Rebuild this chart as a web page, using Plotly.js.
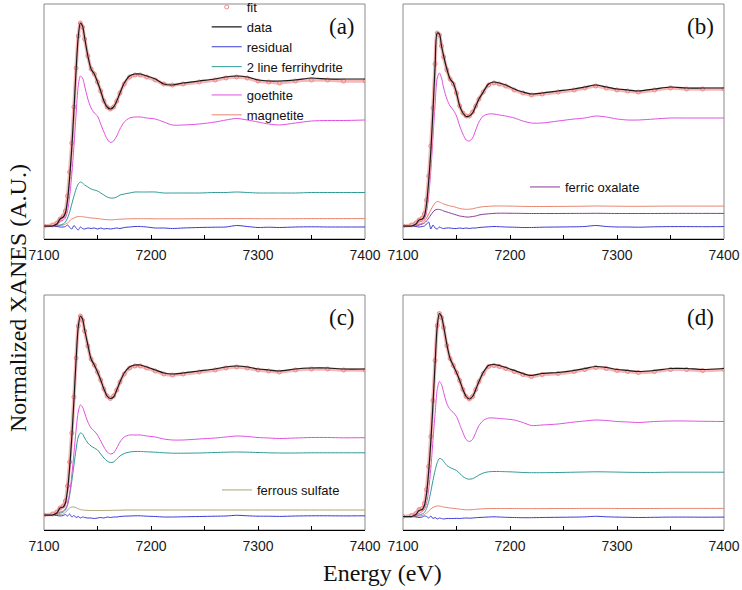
<!DOCTYPE html>
<html><head><meta charset="utf-8">
<script src="https://cdn.plot.ly/plotly-3.0.1.min.js"></script>
<style>html,body{margin:0;padding:0;background:#fff}#chart{width:742px;height:590px}</style>
</head><body><div id="chart"></div>
<script>
// Energy grid (eV)
const energy = [7100, 7108, 7112, 7115, 7118, 7120, 7122, 7124, 7126, 7128, 7130, 7132, 7134, 7136, 7138, 7141, 7144, 7147, 7150, 7153, 7156, 7159, 7162, 7165, 7168, 7171, 7175, 7180, 7185, 7190, 7196, 7204, 7212, 7220, 7230, 7245, 7260, 7270, 7280, 7290, 7300, 7310, 7320, 7335, 7350, 7365, 7380, 7400];

const tickValues = [7100, 7200, 7300, 7400];
const tickLabels = ['7100', '7200', '7300', '7400'];
const panelLabels = ['(a)', '(b)', '(c)', '(d)'];

// Panel (a)
const a_data = [0, 0, 0.02, 0.07, 0.09, 0.13, 0.26, 0.49, 0.79, 1.16, 1.56, 1.89, 2.03, 2.0, 1.88, 1.7, 1.57, 1.52, 1.44, 1.35, 1.25, 1.19, 1.17, 1.19, 1.25, 1.33, 1.43, 1.5, 1.52, 1.52, 1.5, 1.47, 1.42, 1.41, 1.43, 1.45, 1.47, 1.49, 1.5, 1.49, 1.46, 1.45, 1.45, 1.46, 1.48, 1.47, 1.47, 1.47];
const a_fit = [0, 0.01, 0.03, 0.07, 0.1, 0.15, 0.3, 0.54, 0.83, 1.19, 1.58, 1.9, 2.03, 1.99, 1.87, 1.7, 1.57, 1.52, 1.44, 1.35, 1.25, 1.19, 1.17, 1.19, 1.25, 1.33, 1.42, 1.49, 1.51, 1.51, 1.49, 1.46, 1.42, 1.41, 1.42, 1.44, 1.46, 1.48, 1.49, 1.48, 1.45, 1.44, 1.43, 1.45, 1.46, 1.46, 1.45, 1.45];
const a_residual = [0, 0, -0.005, -0.01, -0.01, -0.005, 0.01, -0.015, -0.03, 0.005, -0.02, -0.04, -0.01, -0.025, -0.03, -0.02, -0.025, -0.02, -0.03, -0.02, -0.03, -0.025, -0.03, -0.025, -0.02, -0.025, -0.015, -0.01, -0.005, -0.005, -0.01, -0.02, -0.02, -0.025, -0.02, -0.015, -0.012, -0.01, 0.005, -0.005, -0.015, -0.012, -0.015, -0.01, -0.008, -0.01, -0.01, -0.01];
const a_ferrihydrite = [0, 0, 0, 0.01, 0.02, 0.04, 0.08, 0.14, 0.22, 0.3, 0.37, 0.42, 0.44, 0.43, 0.41, 0.39, 0.37, 0.36, 0.35, 0.33, 0.31, 0.29, 0.28, 0.28, 0.29, 0.31, 0.32, 0.33, 0.34, 0.34, 0.34, 0.34, 0.33, 0.33, 0.33, 0.33, 0.335, 0.335, 0.34, 0.335, 0.33, 0.33, 0.33, 0.33, 0.335, 0.335, 0.335, 0.335];
const a_goethite = [0, 0, 0.01, 0.04, 0.06, 0.08, 0.15, 0.3, 0.52, 0.8, 1.12, 1.4, 1.5, 1.48, 1.4, 1.27, 1.18, 1.13, 1.1, 1.02, 0.94, 0.87, 0.835, 0.85, 0.9, 0.97, 1.04, 1.08, 1.09, 1.09, 1.08, 1.07, 1.04, 1.01, 1.01, 1.02, 1.04, 1.06, 1.075, 1.06, 1.04, 1.02, 1.01, 1.03, 1.05, 1.055, 1.055, 1.06];
const a_magnetite = [0, 0, 0, 0.005, 0.01, 0.02, 0.03, 0.05, 0.07, 0.08, 0.09, 0.095, 0.095, 0.093, 0.09, 0.085, 0.08, 0.078, 0.075, 0.07, 0.066, 0.063, 0.062, 0.063, 0.066, 0.068, 0.07, 0.072, 0.073, 0.073, 0.073, 0.072, 0.072, 0.072, 0.072, 0.073, 0.073, 0.074, 0.074, 0.074, 0.073, 0.073, 0.073, 0.073, 0.074, 0.074, 0.074, 0.074];

// Panel (b)
const b_data = [0, 0, 0.02, 0.06, 0.07, 0.1, 0.22, 0.45, 0.75, 1.15, 1.6, 1.93, 1.92, 1.8, 1.7, 1.57, 1.47, 1.43, 1.33, 1.2, 1.13, 1.095, 1.1, 1.13, 1.2, 1.27, 1.34, 1.42, 1.44, 1.43, 1.41, 1.37, 1.34, 1.32, 1.33, 1.35, 1.37, 1.39, 1.41, 1.39, 1.37, 1.36, 1.35, 1.37, 1.39, 1.38, 1.38, 1.38];
const b_fit = [0, 0.01, 0.03, 0.06, 0.08, 0.12, 0.26, 0.5, 0.8, 1.18, 1.62, 1.93, 1.91, 1.8, 1.69, 1.56, 1.47, 1.42, 1.33, 1.2, 1.13, 1.1, 1.1, 1.14, 1.2, 1.27, 1.34, 1.41, 1.43, 1.42, 1.4, 1.36, 1.33, 1.31, 1.32, 1.34, 1.36, 1.38, 1.4, 1.38, 1.36, 1.35, 1.34, 1.36, 1.38, 1.37, 1.37, 1.37];
const b_residual = [0, 0, -0.005, -0.01, -0.005, 0, 0.02, 0.04, -0.03, 0.01, -0.02, -0.03, -0.01, -0.02, -0.025, -0.02, -0.02, -0.025, -0.025, -0.02, -0.025, -0.02, -0.025, -0.02, -0.02, -0.015, -0.012, -0.008, -0.005, -0.007, -0.01, -0.012, -0.015, -0.015, -0.012, -0.01, -0.008, -0.005, 0.005, -0.005, -0.01, -0.01, -0.012, -0.008, -0.006, -0.006, -0.007, -0.006];
const b_goethite = [0, 0, 0.01, 0.04, 0.05, 0.07, 0.14, 0.3, 0.55, 0.88, 1.22, 1.48, 1.53, 1.48, 1.38, 1.27, 1.2, 1.16, 1.1, 1.0, 0.92, 0.86, 0.85, 0.88, 0.96, 1.04, 1.1, 1.12, 1.12, 1.11, 1.1, 1.08, 1.05, 1.03, 1.03, 1.05, 1.07, 1.08, 1.1, 1.09, 1.07, 1.06, 1.06, 1.07, 1.08, 1.08, 1.08, 1.08];
const b_magnetite = [0, 0, 0.01, 0.02, 0.03, 0.05, 0.08, 0.12, 0.16, 0.2, 0.23, 0.245, 0.24, 0.23, 0.22, 0.21, 0.2, 0.195, 0.185, 0.175, 0.17, 0.167, 0.168, 0.172, 0.18, 0.187, 0.193, 0.197, 0.2, 0.2, 0.2, 0.198, 0.196, 0.195, 0.195, 0.196, 0.197, 0.198, 0.2, 0.199, 0.198, 0.197, 0.197, 0.198, 0.199, 0.199, 0.199, 0.199];
const b_oxalate = [0, 0, 0, 0.01, 0.02, 0.03, 0.05, 0.08, 0.11, 0.14, 0.16, 0.167, 0.165, 0.16, 0.15, 0.14, 0.13, 0.12, 0.11, 0.1, 0.095, 0.09, 0.09, 0.095, 0.1, 0.11, 0.117, 0.122, 0.126, 0.128, 0.128, 0.127, 0.126, 0.125, 0.125, 0.125, 0.126, 0.126, 0.127, 0.126, 0.125, 0.125, 0.125, 0.125, 0.126, 0.126, 0.126, 0.126];

// Panel (c)
const c_data = [0, 0, 0.02, 0.07, 0.08, 0.12, 0.25, 0.48, 0.78, 1.15, 1.55, 1.88, 1.99, 1.96, 1.85, 1.7, 1.56, 1.5, 1.43, 1.35, 1.26, 1.19, 1.165, 1.18, 1.25, 1.33, 1.42, 1.48, 1.5, 1.5, 1.48, 1.45, 1.42, 1.41, 1.42, 1.44, 1.46, 1.48, 1.49, 1.48, 1.46, 1.45, 1.44, 1.46, 1.47, 1.47, 1.46, 1.46];
const c_fit = [0, 0.01, 0.03, 0.07, 0.09, 0.14, 0.29, 0.53, 0.82, 1.18, 1.57, 1.89, 1.99, 1.95, 1.84, 1.69, 1.56, 1.5, 1.43, 1.35, 1.26, 1.19, 1.165, 1.19, 1.25, 1.33, 1.41, 1.47, 1.49, 1.49, 1.47, 1.44, 1.41, 1.4, 1.41, 1.43, 1.45, 1.47, 1.48, 1.47, 1.45, 1.44, 1.43, 1.45, 1.46, 1.46, 1.45, 1.45];
const c_residual = [0, 0, -0.005, -0.01, -0.005, 0.005, -0.01, 0.01, -0.02, -0.005, -0.025, -0.015, -0.03, -0.02, -0.025, -0.03, -0.03, -0.035, -0.03, -0.025, -0.03, -0.02, -0.025, -0.02, -0.02, -0.015, -0.012, -0.01, -0.008, -0.008, -0.012, -0.015, -0.02, -0.02, -0.018, -0.015, -0.012, -0.01, -0.003, -0.008, -0.012, -0.012, -0.014, -0.01, -0.008, -0.008, -0.009, -0.008];
const c_goethite = [0, 0, 0.01, 0.03, 0.04, 0.06, 0.11, 0.22, 0.4, 0.62, 0.85, 1.03, 1.1, 1.08, 1.02, 0.93, 0.87, 0.84, 0.8, 0.74, 0.68, 0.63, 0.61, 0.62, 0.67, 0.73, 0.78, 0.8, 0.8, 0.8, 0.79, 0.78, 0.76, 0.75, 0.75, 0.76, 0.77, 0.78, 0.79, 0.785, 0.775, 0.77, 0.765, 0.77, 0.775, 0.775, 0.772, 0.773];
const c_ferrihydrite = [0, 0, 0.005, 0.02, 0.03, 0.05, 0.1, 0.2, 0.34, 0.5, 0.66, 0.78, 0.82, 0.81, 0.77, 0.72, 0.69, 0.67, 0.65, 0.61, 0.57, 0.54, 0.525, 0.53, 0.56, 0.59, 0.615, 0.63, 0.635, 0.635, 0.632, 0.628, 0.622, 0.618, 0.618, 0.62, 0.625, 0.628, 0.63, 0.628, 0.625, 0.622, 0.62, 0.62, 0.622, 0.622, 0.622, 0.622];
const c_sulfate = [0, 0, 0, 0.005, 0.01, 0.025, 0.05, 0.07, 0.08, 0.08, 0.072, 0.062, 0.055, 0.05, 0.048, 0.046, 0.045, 0.045, 0.045, 0.045, 0.045, 0.046, 0.046, 0.047, 0.048, 0.048, 0.05, 0.05, 0.05, 0.05, 0.05, 0.05, 0.05, 0.05, 0.05, 0.05, 0.05, 0.05, 0.05, 0.05, 0.05, 0.05, 0.05, 0.05, 0.05, 0.05, 0.05, 0.05];

// Panel (d)
const d_data = [0, 0, 0.02, 0.06, 0.07, 0.11, 0.23, 0.45, 0.75, 1.12, 1.53, 1.9, 2.03, 2.0, 1.9, 1.72, 1.58, 1.51, 1.44, 1.36, 1.27, 1.2, 1.175, 1.2, 1.27, 1.35, 1.44, 1.51, 1.52, 1.51, 1.49, 1.46, 1.43, 1.41, 1.43, 1.44, 1.46, 1.48, 1.5, 1.49, 1.47, 1.46, 1.45, 1.46, 1.48, 1.48, 1.47, 1.48];
const d_fit = [0, 0.01, 0.03, 0.07, 0.08, 0.13, 0.27, 0.5, 0.8, 1.16, 1.56, 1.91, 2.03, 1.99, 1.89, 1.71, 1.58, 1.51, 1.44, 1.36, 1.27, 1.2, 1.175, 1.2, 1.27, 1.35, 1.43, 1.5, 1.51, 1.5, 1.48, 1.45, 1.42, 1.4, 1.42, 1.43, 1.45, 1.47, 1.49, 1.48, 1.46, 1.45, 1.44, 1.45, 1.47, 1.47, 1.46, 1.47];
const d_residual = [0, 0, -0.005, -0.01, -0.005, 0.005, 0, -0.015, 0.005, -0.02, -0.01, -0.025, -0.015, -0.02, -0.025, -0.02, -0.02, -0.02, -0.018, -0.02, -0.017, -0.015, -0.017, -0.015, -0.012, -0.01, -0.008, -0.005, -0.003, -0.005, -0.008, -0.01, -0.012, -0.012, -0.01, -0.008, -0.006, -0.004, 0.002, -0.003, -0.006, -0.008, -0.01, -0.008, -0.006, -0.006, -0.007, -0.006];
const d_goethite = [0, 0, 0.01, 0.03, 0.05, 0.07, 0.13, 0.27, 0.48, 0.76, 1.03, 1.27, 1.35, 1.32, 1.24, 1.13, 1.07, 1.04, 1.0, 0.92, 0.84, 0.77, 0.75, 0.77, 0.84, 0.91, 0.96, 0.985, 0.985, 0.98, 0.975, 0.965, 0.94, 0.91, 0.915, 0.925, 0.945, 0.955, 0.965, 0.96, 0.95, 0.945, 0.94, 0.95, 0.955, 0.955, 0.952, 0.95];
const d_ferrihydrite = [0, 0, 0.005, 0.015, 0.025, 0.04, 0.08, 0.15, 0.25, 0.36, 0.46, 0.54, 0.58, 0.575, 0.55, 0.51, 0.49, 0.475, 0.46, 0.43, 0.4, 0.38, 0.373, 0.378, 0.395, 0.415, 0.435, 0.447, 0.45, 0.45, 0.448, 0.445, 0.44, 0.438, 0.438, 0.44, 0.443, 0.445, 0.447, 0.446, 0.444, 0.442, 0.441, 0.441, 0.443, 0.443, 0.443, 0.443];
const d_magnetite = [0, 0, 0, 0.005, 0.01, 0.02, 0.035, 0.055, 0.075, 0.09, 0.1, 0.105, 0.105, 0.1, 0.095, 0.09, 0.085, 0.082, 0.078, 0.073, 0.07, 0.067, 0.067, 0.069, 0.072, 0.075, 0.077, 0.079, 0.08, 0.08, 0.08, 0.08, 0.079, 0.079, 0.079, 0.08, 0.08, 0.081, 0.081, 0.081, 0.08, 0.08, 0.08, 0.08, 0.081, 0.081, 0.081, 0.081];

const COL = {
  fit: '#ee8585', fitHalo: 'rgba(242,160,160,0.75)', data: '#1a1a1a', residual: '#3a3ad8',
  ferrihydrite: '#2f9a98', goethite: '#e050e0', magnetite: '#e8846e',
  oxalate: '#8a3a98', sulfate: '#aca474'
};
const SANS = 'Liberation Sans, Arial, sans-serif';
const SERIF = 'Liberation Serif, Times New Roman, serif';

const traces = [];
function ln(y, name, color, xa, ya, o) {
  o = o || {};
  traces.push({
    type: 'scatter', mode: 'lines', x: energy, y: y, name: name,
    xaxis: xa, yaxis: ya,
    line: {color: color, width: o.width || 1, shape: 'spline', smoothing: 0.8},
    showlegend: !!o.legend, legend: o.legend || 'legend', legendrank: o.rank || 1000,
    hoverinfo: 'skip'
  });
}
function fitTraces(y, xa, ya, legend) {
  traces.push({type: 'scatter', mode: 'lines', x: energy, y: y, xaxis: xa, yaxis: ya,
    line: {color: COL.fitHalo, width: 3.5, shape: 'spline', smoothing: 0.8}, showlegend: false, hoverinfo: 'skip'});
  traces.push({type: 'scatter', mode: 'markers', x: energy, y: y, name: 'fit', xaxis: xa, yaxis: ya,
    marker: {symbol: 'circle-open', size: 4, color: COL.fit, line: {width: 1, color: COL.fit}},
    showlegend: !!legend, legend: legend || 'legend', legendrank: 1, hoverinfo: 'skip'});
}

// (a)
ln(a_magnetite, 'magnetite', COL.magnetite, 'x', 'y', {legend: 'legend4', rank: 2});
ln(a_goethite, 'goethite', COL.goethite, 'x', 'y', {legend: 'legend4', rank: 1});
ln(a_ferrihydrite, '2 line ferrihydrite', COL.ferrihydrite, 'x', 'y', {legend: 'legend', rank: 4});
ln(a_residual, 'residual', COL.residual, 'x', 'y', {legend: 'legend', rank: 3});
fitTraces(a_fit, 'x', 'y', 'legend');
ln(a_data, 'data', COL.data, 'x', 'y', {legend: 'legend', rank: 2, width: 1.2});
// (b)
ln(b_magnetite, 'magnetite', COL.magnetite, 'x2', 'y2');
ln(b_oxalate, 'ferric oxalate', COL.oxalate, 'x2', 'y2', {legend: 'legend2', rank: 1});
ln(b_goethite, 'goethite', COL.goethite, 'x2', 'y2');
ln(b_residual, 'residual', COL.residual, 'x2', 'y2');
fitTraces(b_fit, 'x2', 'y2');
ln(b_data, 'data', COL.data, 'x2', 'y2', {width: 1.2});
// (c)
ln(c_sulfate, 'ferrous sulfate', COL.sulfate, 'x3', 'y3', {legend: 'legend3', rank: 1});
ln(c_ferrihydrite, '2 line ferrihydrite', COL.ferrihydrite, 'x3', 'y3');
ln(c_goethite, 'goethite', COL.goethite, 'x3', 'y3');
ln(c_residual, 'residual', COL.residual, 'x3', 'y3');
fitTraces(c_fit, 'x3', 'y3');
ln(c_data, 'data', COL.data, 'x3', 'y3', {width: 1.2});
// (d)
ln(d_magnetite, 'magnetite', COL.magnetite, 'x4', 'y4');
ln(d_ferrihydrite, '2 line ferrihydrite', COL.ferrihydrite, 'x4', 'y4');
ln(d_goethite, 'goethite', COL.goethite, 'x4', 'y4');
ln(d_residual, 'residual', COL.residual, 'x4', 'y4');
fitTraces(d_fit, 'x4', 'y4');
ln(d_data, 'data', COL.data, 'x4', 'y4', {width: 1.2});

const W = 742, H = 590;
const xL = [44 / W, 365 / W], xR = [403 / W, 724 / W];
const yT = [1 - 239 / H, 1 - 4 / H], yB = [1 - 530 / H, 1 - 295 / H];

function xaxis(dom, anchor) {
  return {domain: dom, anchor: anchor, range: [7100, 7400], autorange: false,
    tickmode: 'array', tickvals: tickValues, ticktext: tickLabels,
    ticks: 'inside', ticklen: 4, tickwidth: 1, tickcolor: '#000',
    minor: {ticks: 'inside', ticklen: 4, tickwidth: 1, tickcolor: '#000', dtick: 50, tick0: 7100, showgrid: false},
    showline: true, linecolor: '#000', linewidth: 1, mirror: false,
    showgrid: false, zeroline: false, ticklabelstandoff: 3,
    tickfont: {family: SANS, size: 14, color: '#1a1a1a'}};
}
function yaxis(dom, anchor, rng) {
  return {domain: dom, anchor: anchor, range: rng, autorange: false,
    showticklabels: false, ticks: '', showline: false, showgrid: false, zeroline: false};
}
const legendBase = {xanchor: 'left', yanchor: 'top', bgcolor: 'rgba(0,0,0,0)', borderwidth: 0,
  font: {family: SANS, size: 13, color: '#111'}, traceorder: 'normal'};

const frames = ['x', 'x2', 'x3', 'x4'].map((xa, i) => ({
  type: 'rect', xref: xa + ' domain', yref: ['y', 'y2', 'y3', 'y4'][i] + ' domain',
  x0: 0, x1: 1, y0: 0, y1: 1, line: {color: '#8a8a8a', width: 1}, layer: 'below'
}));

const annotations = panelLabels.map((t, i) => ({
  text: t, xref: ['x', 'x2', 'x3', 'x4'][i] + ' domain', yref: ['y', 'y2', 'y3', 'y4'][i] + ' domain',
  x: 0.975, y: 0.905, xanchor: 'right', yanchor: 'middle', showarrow: false,
  font: {family: SERIF, size: 23, color: '#111'}
}));
annotations.push({text: 'Normalized XANES (A.U.)', xref: 'paper', yref: 'paper', x: 18 / W, y: 1 - 298 / H,
  xanchor: 'center', yanchor: 'middle', textangle: -90, showarrow: false,
  font: {family: SERIF, size: 24, color: '#111'}});
annotations.push({text: 'Energy (eV)', xref: 'paper', yref: 'paper', x: 383 / W, y: 1 - 573 / H,
  xanchor: 'center', yanchor: 'middle', showarrow: false,
  font: {family: SERIF, size: 24, color: '#111'}});

const layout = {
  width: W, height: H, margin: {l: 0, r: 0, t: 0, b: 0, autoexpand: false},
  paper_bgcolor: '#fff', plot_bgcolor: '#fff',
  xaxis: xaxis(xL, 'y'), yaxis: yaxis(yT, 'x', [-0.13, 2.22]),
  xaxis2: xaxis(xR, 'y2'), yaxis2: yaxis(yT, 'x2', [-0.13, 2.22]),
  xaxis3: xaxis(xL, 'y3'), yaxis3: yaxis(yB, 'x3', [-0.15, 2.2]),
  xaxis4: xaxis(xR, 'y4'), yaxis4: yaxis(yB, 'x4', [-0.135, 2.215]),
  legend: Object.assign({}, legendBase, {x: 206.7 / W, y: 1 + 8 / H}),
  legend4: Object.assign({}, legendBase, {x: 206.7 / W, y: 1 - 80 / H}),
  legend2: Object.assign({}, legendBase, {x: 525 / W, y: 1 - 172 / H}),
  legend3: Object.assign({}, legendBase, {x: 217 / W, y: 1 - 475 / H}),
  shapes: frames, annotations: annotations, showlegend: true
};

Plotly.newPlot('chart', traces, layout, {staticPlot: true, displayModeBar: false});
</script>
</body></html>
